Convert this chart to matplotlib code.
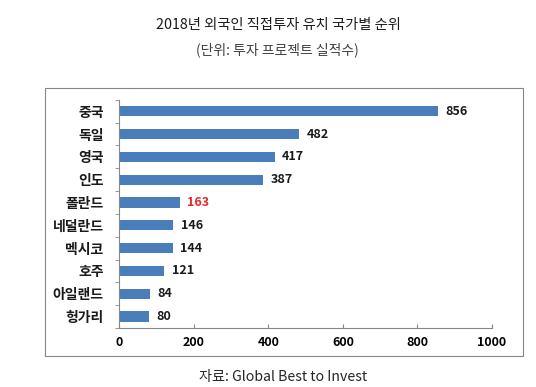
import matplotlib
matplotlib.use("Agg")
import matplotlib.pyplot as plt
from matplotlib.patches import Rectangle

plt.rcParams["font.family"] = ["Noto Sans CJK KR", "DejaVu Sans"]

countries = ["중국", "독일", "영국", "인도", "폴란드", "네덜란드", "멕시코", "호주", "아일랜드", "헝가리"]
projects = [856, 482, 417, 387, 163, 146, 144, 121, 84, 80]
highlight = "폴란드"
x_ticks = [0, 200, 400, 600, 800, 1000]

BAR_COLOR = "#4a7ebb"
AXIS_COLOR = "#868686"

fig = plt.figure(figsize=(5.36, 3.87), dpi=100)
ax = fig.add_axes([0.222, 0.1525, 0.696, 0.5895])

y = list(range(len(countries)))
ax.barh(y, projects, height=0.45, color=BAR_COLOR)
ax.set_ylim(len(countries) - 0.5, -0.5)
ax.set_xlim(0, 1000)

for yi, name, val in zip(y, countries, projects):
    color = "#e8262a" if name == highlight else "#1a1a1a"
    ax.text(val + 20, yi, str(val), va="center", ha="left", fontsize=9,
            fontweight="bold", color=color)

ax.set_yticks(y)
ax.set_yticklabels(countries, fontsize=10, fontweight="bold", color="#1a1a1a")
ax.set_yticks([i - 0.5 for i in range(len(countries) + 1)], minor=True)
ax.tick_params(axis="y", which="major", length=0, pad=11)
ax.tick_params(axis="y", which="minor", length=3, color=AXIS_COLOR, direction="out")
ax.set_xticks(x_ticks)
ax.set_xticklabels([str(t) for t in x_ticks], fontsize=9, fontweight="bold")
ax.tick_params(axis="x", length=3, color=AXIS_COLOR, direction="in", pad=6)

for side in ["top", "right"]:
    ax.spines[side].set_visible(False)
for side in ["left", "bottom"]:
    ax.spines[side].set_color(AXIS_COLOR)
    ax.spines[side].set_linewidth(0.8)

# outer chart box
fig.patches.append(Rectangle((45 / 536, 1 - 356 / 387), (523 - 45) / 536, (356 - 88) / 387,
                             transform=fig.transFigure, fill=False,
                             edgecolor=AXIS_COLOR, linewidth=0.8))

fig.text(0.52, 0.935, "2018년 외국인 직접투자 유치 국가별 순위", ha="center", va="center",
         fontsize=10.3, color="#1a1a1a")
fig.text(0.517, 0.872, "(단위: 투자 프로젝트 실적수)", ha="center", va="center",
         fontsize=10, color="#404040")
fig.text(0.528, 0.026, "자료: Global Best to Invest", ha="center", va="center",
         fontsize=10.2, color="#262626")

fig.savefig("out.png", dpi=100)
